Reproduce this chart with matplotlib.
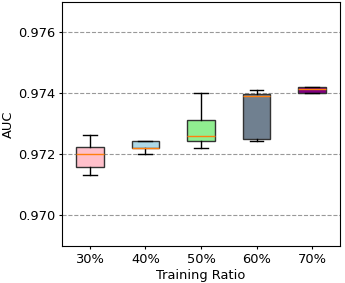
import numpy as np
import matplotlib
matplotlib.use("Agg")
import matplotlib.pyplot as plt

plt.rcParams["font.size"] = 9.4

ratios = ["30%", "40%", "50%", "60%", "70%"]
auc_30 = [0.97131, 0.97160, 0.97200, 0.97223, 0.97263]
auc_40 = [0.97202, 0.97221, 0.97222, 0.97243, 0.97243]
auc_50 = [0.97221, 0.97243, 0.97261, 0.97312, 0.97401]
auc_60 = [0.97243, 0.97250, 0.97393, 0.97399, 0.97411]
auc_70 = [0.97402, 0.97402, 0.97415, 0.97422, 0.97422]
box_colors = ["pink", "lightblue", "lightgreen", "slategray", "purple"]

fig, ax = plt.subplots(figsize=(3.45, 2.83), dpi=100)
bp = ax.boxplot([auc_30, auc_40, auc_50, auc_60, auc_70], patch_artist=True,
                widths=0.5, showfliers=False)
for patch, c in zip(bp["boxes"], box_colors):
    patch.set_facecolor(c)
    patch.set_edgecolor("#333333")
for med in bp["medians"]:
    med.set_color("#ff7f0e")

ax.set_xticks(range(1, 6))
ax.set_xticklabels(ratios)
ax.set_ylim(0.969, 0.977)
ax.set_yticks([0.970, 0.972, 0.974, 0.976])
ax.yaxis.set_major_formatter(matplotlib.ticker.FormatStrFormatter("%.3f"))
ax.tick_params(length=2.5, pad=2.5)
ax.set_xlabel("Training Ratio", labelpad=2)
ax.set_ylabel("AUC", labelpad=2.5)
ax.grid(axis="y", linestyle="--", color="gray", alpha=0.8)
ax.set_axisbelow(True)

plt.subplots_adjust(left=0.18, right=0.985, top=0.993, bottom=0.131)
plt.savefig("out.png", dpi=100)
